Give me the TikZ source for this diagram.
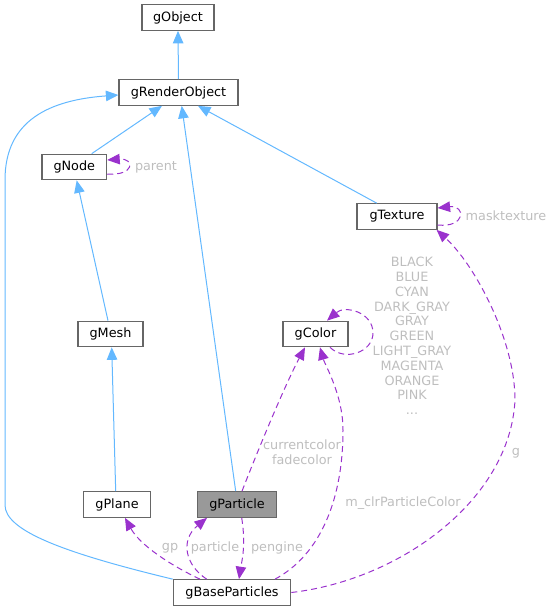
\documentclass[tikz,border=0pt]{standalone}
\usepackage{fontspec}
\setmainfont{DejaVu Sans}
\usetikzlibrary{arrows.meta}
\definecolor{inhblue}{HTML}{63B8FF}
\definecolor{usepurple}{HTML}{9A32CD}
\definecolor{boxgray}{HTML}{666666}
\definecolor{lblgray}{HTML}{BEBEBE}
\definecolor{hlfill}{HTML}{999999}
\tikzset{
  cls/.style={draw=boxgray, line width=1.2pt, fill=white, minimum height=25.5pt, inner sep=0pt, font=\fontsize{12.8}{14}\selectfont, text=black},
  inh/.style={draw=inhblue, line width=1pt, -{Triangle[length=12.5pt,width=10.5pt]}},
  use/.style={draw=usepurple, line width=1pt, dash pattern=on 6pt off 4pt, -{Triangle[length=12.5pt,width=10.5pt]}},
  lbl/.style={text=lblgray, font=\fontsize{12.8}{14.8}\selectfont, inner sep=0pt, align=center}
}
\begin{document}
\begin{tikzpicture}[x=1pt,y=-1pt]
\useasboundingbox (0,0) rectangle (554,611);
% nodes
\node[cls, minimum width=72pt] (gObject) at (178,17.5) {gObject};
\node[cls, minimum width=119pt] (gRenderObject) at (178.5,92.5) {gRenderObject};
\node[cls, minimum width=64.7pt] (gNode) at (74.3,167) {gNode};
\node[cls, minimum width=80pt] (gTexture) at (397,216.5) {gTexture};
\node[cls, minimum width=65pt] (gMesh) at (110.5,334) {gMesh};
\node[cls, minimum width=65pt] (gColor) at (315.5,334) {gColor};
\node[cls, minimum width=67.4pt] (gPlane) at (117,504.5) {gPlane};
\node[cls, minimum width=79pt, fill=hlfill] (gParticle) at (237,504.5) {gParticle};
\node[cls, minimum width=117.4pt] (gBaseParticles) at (232,592.5) {gBaseParticles};
% inheritance
\draw[inh] (gRenderObject.north) -- (gObject.south);
\draw[inh] ([xshift=17.4pt]gNode.north) -- ([xshift=-16.5pt]gRenderObject.south);
\draw[inh] ([xshift=-20.3pt]gTexture.north) -- ([xshift=19.5pt]gRenderObject.south);
\draw[inh] ([xshift=-1.3pt]gParticle.north) -- ([xshift=3.2pt]gRenderObject.south);
\draw[inh] ([xshift=-2.5pt]gMesh.north) -- ([xshift=2.4pt]gNode.south);
\draw[inh] ([xshift=-1.3pt]gPlane.north) -- ([xshift=1.2pt]gMesh.south);
\draw[inh] (gBaseParticles.north west) .. controls (60,552) and (5,530) .. (5,505)
  -- (5,180) .. controls (5,120) and (50,100) .. ([yshift=-2.5pt]gRenderObject.west);
% usage
\draw[use] ([yshift=-7pt]gNode.east) .. controls (135,176) and (135,158) .. ([yshift=7pt]gNode.east);
\node[lbl] (lparent) at (156,167) {parent};
\draw[use] ([yshift=-8.5pt]gTexture.east) .. controls (466,228) and (466,205) .. ([yshift=8.5pt]gTexture.east);
\node[lbl] (lmask) at (506,216) {masktexture};
\draw[use] ([xshift=14.5pt]gColor.south) .. controls (345,362) and (373,352) .. (373,333)
  .. controls (373,312) and (345,305) .. ([xshift=11.5pt]gColor.north);
\node[lbl] (lcolors) at (412,336) {BLACK\\BLUE\\CYAN\\DARK\_GRAY\\GRAY\\GREEN\\LIGHT\_GRAY\\MAGENTA\\ORANGE\\PINK\\...};
\draw[use] ([xshift=5pt]gParticle.north) .. controls (260,445) and (285,385) .. ([xshift=-10.5pt]gColor.south);
\node[lbl] (lcur) at (302,452) {currentcolor\\fadecolor};
\draw[use] ([xshift=43pt]gBaseParticles.north) .. controls (320,555) and (343,500) .. (343,430)
  .. controls (343,395) and (325,365) .. ([xshift=4.5pt]gColor.south);
\node[lbl] (lclr) at (403,503) {m\_clrParticleColor};
\draw[use] (gBaseParticles.east) .. controls (400,580) and (510,500) .. (515,400)
  .. controls (515,340) and (475,265) .. ([xshift=-1pt]gTexture.south east);
\node[lbl] (lg) at (516,453) {g};
\draw[use] ([xshift=4.7pt]gParticle.south) .. controls (246,545) and (242,560) .. ([xshift=7pt]gBaseParticles.north);
\node[lbl] (lpengine) at (277,548) {pengine};
\draw[use] ([xshift=-25.3pt]gBaseParticles.north) .. controls (185,565) and (180,540) .. ([xshift=-30pt]gParticle.south);
\node[lbl] (lparticle) at (215,548) {particle};
\draw[use] ([xshift=-32pt]gBaseParticles.north) .. controls (170,565) and (140,545) .. ([xshift=8pt]gPlane.south);
\node[lbl] (lgp) at (170,548) {gp};
\end{tikzpicture}
\end{document}
